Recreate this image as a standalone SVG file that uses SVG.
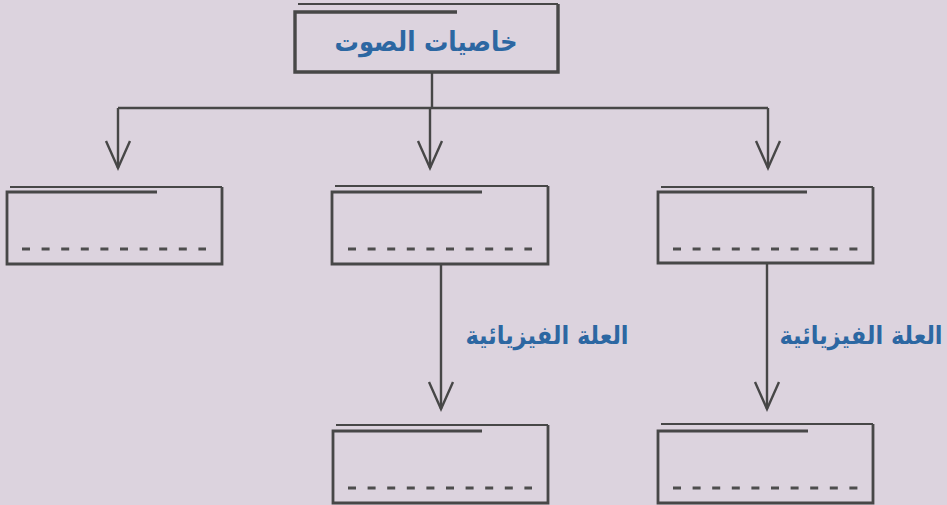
<svg xmlns="http://www.w3.org/2000/svg" width="947" height="505" viewBox="0 0 947 505">
<defs>
<style>
.frame{fill:none;stroke:#474747;stroke-width:2.8;stroke-linejoin:miter}
.top{stroke-width:3.4}
.over{fill:none;stroke:#474747;stroke-width:1.8}
.dash{fill:none;stroke:#4d4d4d;stroke-width:3;stroke-dasharray:8 11.6}
.conn{fill:none;stroke:#474747;stroke-width:2.4}
.head{fill:none;stroke:#474747;stroke-width:2.4;stroke-linejoin:miter}
.lbl{font-family:"DejaVu Sans Condensed","DejaVu Sans",sans-serif;font-weight:bold;fill:#2c67a2;text-anchor:middle}
</style>
</defs>
<rect width="947" height="505" fill="#dcd3de"/>
<g id="connectors">
<path class="conn" d="M432 73 V108 M118 108 H768 M118 108 V168 M430 108 V168 M768 108 V168"/>
<path class="head" d="M106 141 L118 168 L130 141 M418 141 L430 168 L442 141 M756 141 L768 168 L780 141"/>
<path class="conn" d="M441 264 V409 M767 264 V409"/>
<path class="head" d="M429 382 L441 409 L453 382 M755 382 L767 409 L779 382"/>
</g>
<g id="root">
<path class="frame top" d="M457 12 H295 V72 H558 V4"/>
<path class="over" d="M298 4 H558"/>
<text class="lbl" x="426" y="51" font-size="27">خاصيات الصوت</text>
</g>
<g id="box-left">
<path class="frame" d="M157 192 H7 V264 H222 V187"/>
<path class="over" d="M10 187 H222"/>
<path class="dash" d="M22 249 H206"/>
</g>
<g id="box-center">
<path class="frame" d="M482 192 H332 V264 H548 V186"/>
<path class="over" d="M335 186 H548"/>
<path class="dash" d="M348 249 H532"/>
</g>
<g id="box-right">
<path class="frame" d="M807 192 H658 V263 H873 V187"/>
<path class="over" d="M661 187 H873"/>
<path class="dash" d="M673 249 H860"/>
</g>
<g id="label-center">
<text class="lbl" x="547" y="344" font-size="25">العلة الفيزيائية</text>
</g>
<g id="label-right">
<text class="lbl" x="861" y="344" font-size="25">العلة الفيزيائية</text>
</g>
<g id="box-bottom-center">
<path class="frame" d="M482 431 H333 V503 H548 V425"/>
<path class="over" d="M336 425 H548"/>
<path class="dash" d="M348 488 H532"/>
</g>
<g id="box-bottom-right">
<path class="frame" d="M808 431 H658 V503 H873 V424"/>
<path class="over" d="M661 424 H873"/>
<path class="dash" d="M673 488 H860"/>
</g>
</svg>
